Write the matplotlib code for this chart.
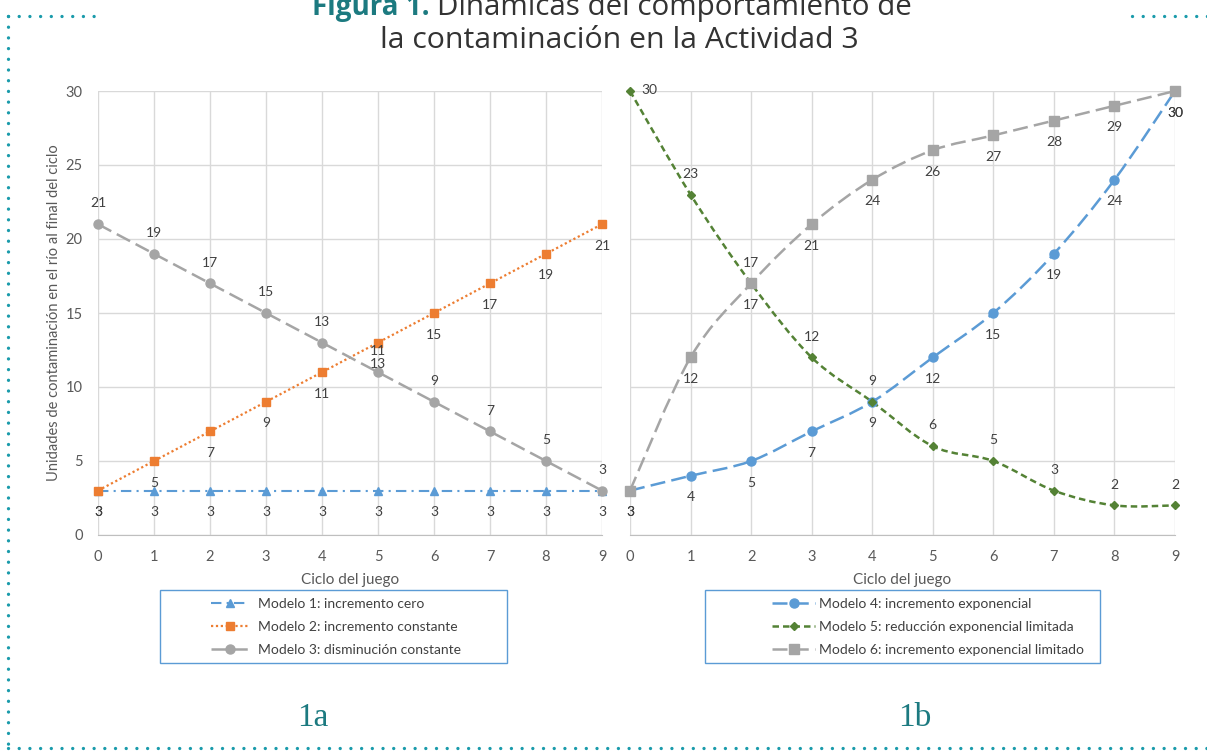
import numpy as np
import matplotlib
matplotlib.use("Agg")
import matplotlib.pyplot as plt
from matplotlib.lines import Line2D
from matplotlib.patches import Rectangle, PathPatch
from matplotlib.path import Path

W, H = 1207, 753

ciclos = list(range(10))
modelo1 = [3, 3, 3, 3, 3, 3, 3, 3, 3, 3]
modelo2 = [3, 5, 7, 9, 11, 13, 15, 17, 19, 21]
modelo3 = [21, 19, 17, 15, 13, 11, 9, 7, 5, 3]
modelo4 = [3, 4, 5, 7, 9, 12, 15, 19, 24, 30]
modelo5 = [30, 23, 17, 12, 9, 6, 5, 3, 2, 2]
modelo6 = [3, 12, 17, 21, 24, 26, 27, 28, 29, 30]

nombres_a = ["Modelo 1: incremento cero",
             "Modelo 2: incremento constante",
             "Modelo 3: disminución constante"]
nombres_b = ["Modelo 4: incremento exponencial",
             "Modelo 5: reducción exponencial limitada",
             "Modelo 6: incremento exponencial limitado"]

AZUL = "#5B9BD5"
NARANJA = "#ED7D31"
GRIS = "#A5A5A5"
VERDE = "#548235"
TEAL = "#1C7A80"
TXT = "#595959"
ETQ = "#404040"
FONT = "Lato"

plt.rcParams["font.family"] = [FONT, "DejaVu Sans"]


def fx(px):
    return px / W


def fy(py):
    return 1 - py / H


def smooth_path(x, y):
    # curva suave tipo Excel (Catmull-Rom en forma de Bezier)
    pts = np.column_stack([x, y]).astype(float)
    n = len(pts)
    verts = [pts[0]]
    codes = [Path.MOVETO]
    for i in range(n - 1):
        p0 = pts[max(i - 1, 0)]
        p1 = pts[i]
        p2 = pts[i + 1]
        p3 = pts[min(i + 2, n - 1)]
        c1 = p1 + (p2 - p0) / 6.0
        c2 = p2 - (p3 - p1) / 6.0
        verts += [c1, c2, p2]
        codes += [Path.CURVE4] * 3
    return Path(verts, codes)


def serie(ax, x, y, color, ls, lw, marker, ms, smooth=False):
    if smooth:
        patch = PathPatch(smooth_path(x, y), facecolor="none", edgecolor=color,
                          lw=lw, linestyle=ls, zorder=3, clip_on=False)
        ax.add_patch(patch)
        ax.plot(x, y, linestyle="none", marker=marker, ms=ms, color=color,
                zorder=4, clip_on=False)
    else:
        ax.plot(x, y, linestyle=ls, lw=lw, marker=marker, ms=ms, color=color,
                zorder=3, clip_on=False, dash_capstyle="butt")
    return Line2D([], [], color=color, linestyle=ls, lw=lw, marker=marker, ms=ms)


def etiquetas(ax, x, y, dy, first_right=False):
    for i, (xi, yi) in enumerate(zip(x, y)):
        off = (0, dy)
        if first_right and i == 0:
            off = (14, 1)
        ax.annotate(str(yi), (xi, yi), xytext=off, textcoords="offset points",
                    ha="center", va="center", fontsize=10, color=ETQ,
                    annotation_clip=False, zorder=5)


def base_axes(ax, show_y):
    ax.set_xlim(0, 9)
    ax.set_ylim(0, 30)
    ax.set_xticks(range(10))
    ax.set_yticks(range(0, 31, 5))
    ax.grid(True, color="#D9D9D9", lw=1)
    ax.set_axisbelow(True)
    for s in ["top", "right", "left"]:
        ax.spines[s].set_visible(False)
    ax.spines["bottom"].set_color("#BFBFBF")
    ax.tick_params(length=0, labelsize=10.5, labelcolor=TXT, pad=11)
    if not show_y:
        ax.tick_params(labelleft=False)
    ax.set_xlabel("Ciclo del juego", fontsize=11, color=TXT, labelpad=6)


fig = plt.figure(figsize=(W / 100, H / 100), dpi=100)

ax1 = fig.add_axes([fx(98), fy(535), fx(602) - fx(98), fy(91) - fy(535)])
ax2 = fig.add_axes([fx(630), fy(535), fx(1175) - fx(630), fy(91) - fy(535)])
base_axes(ax1, True)
base_axes(ax2, False)
ax1.set_ylabel("Unidades de contaminación en el río al final del ciclo",
               fontsize=10.5, color=TXT, labelpad=3)

h1 = serie(ax1, ciclos, modelo1, AZUL, (0, (5, 2.5, 1, 2.5)), 1.5, "^", 6)
h2 = serie(ax1, ciclos, modelo2, NARANJA, (0, (1, 1.2)), 1.6, "s", 6)
h3 = serie(ax1, ciclos, modelo3, GRIS, (0, (6, 2.5)), 1.8, "o", 6.5)
etiquetas(ax1, ciclos, modelo1, -15.5)
etiquetas(ax1, ciclos, modelo2, -15.5)
etiquetas(ax1, ciclos, modelo3, 15)

h4 = serie(ax2, ciclos, modelo4, AZUL, (0, (6, 2.5)), 1.8, "o", 6.5, smooth=True)
h5 = serie(ax2, ciclos, modelo5, VERDE, (0, (2.6, 1.6)), 1.8, "D", 4.5, smooth=True)
h6 = serie(ax2, ciclos, modelo6, GRIS, (0, (6, 2.5)), 1.8, "s", 6.5, smooth=True)
etiquetas(ax2, ciclos, modelo4, -15.5)
etiquetas(ax2, ciclos, modelo5, 15, first_right=True)
etiquetas(ax2, ciclos, modelo6, -15.5)

# leyendas con recuadro azul
leyendas = [((160, 507), [h1, h2, h3], nombres_a, 211, 2.7, 0.7),
            ((705, 1100), [h4, h5, h6], nombres_b, 772, 3.1, 0.3)]
for (x0, x1), handles, names, hx, hl, hp in leyendas:
    fig.patches.append(Rectangle((fx(x0), fy(663)), fx(x1) - fx(x0), fy(590) - fy(663),
                                 transform=fig.transFigure, facecolor="white",
                                 edgecolor=AZUL, lw=1))
    fig.legend(handles, names, loc="center left", bbox_to_anchor=(fx(hx), fy(627)),
               frameon=False, fontsize=10, handlelength=hl, handletextpad=hp,
               labelspacing=0.8, borderpad=0, borderaxespad=0, labelcolor=ETQ)

# titulo
fig.text(fx(430), fy(7), "Figura 1.", ha="right", va="center", fontsize=20,
         color=TEAL, fontweight="bold", family="Open Sans")
fig.text(fx(437), fy(7), "Dinámicas del comportamiento de", ha="left", va="center",
         fontsize=21.3, color="#333333", family="Open Sans")
fig.text(fx(619), fy(40), "la contaminación en la Actividad 3", ha="center", va="center",
         fontsize=21.8, color="#333333", family="Open Sans")

fig.text(fx(313), fy(718), "1a", ha="center", va="center", fontsize=24, color=TEAL,
         family="Liberation Serif")
fig.text(fx(915), fy(718), "1b", ha="center", va="center", fontsize=24, color=TEAL,
         family="Liberation Serif")

# borde punteado
borde = dict(color="#1A9BAB", lw=2.4, linestyle=(0, (0.01, 3.2)),
             dash_capstyle="round", transform=fig.transFigure)
fig.lines.append(Line2D([fx(8), fx(8)], [fy(16), fy(748)], **borde))
fig.lines.append(Line2D([fx(8), fx(1207)], [fy(748), fy(748)], **borde))
fig.lines.append(Line2D([fx(8), fx(96)], [fy(16), fy(16)], **borde))
fig.lines.append(Line2D([fx(1132), fx(1207)], [fy(16), fy(16)], **borde))

fig.savefig("out.png", dpi=100)
